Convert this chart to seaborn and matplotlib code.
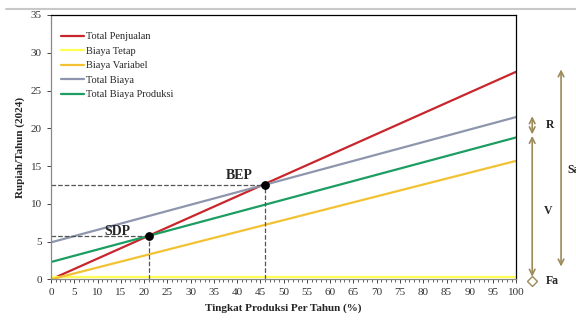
import seaborn as sns
import matplotlib.pyplot as plt
import matplotlib.lines as mlines
import pandas as pd

# production level (%) and line endpoints (rupiah / year)
produksi = [0, 100]
total_penjualan = [0, 27.5]
biaya_tetap = [0.3, 0.3]
biaya_variabel = [0, 15.7]
total_biaya = [4.9, 21.5]
total_biaya_produksi = [2.3, 18.8]

series_names = ["Total Penjualan", "Biaya Tetap", "Biaya Variabel",
                "Total Biaya", "Total Biaya Produksi"]
series_values = [total_penjualan, biaya_tetap, biaya_variabel,
                 total_biaya, total_biaya_produksi]
colors = ["#c8262c", "#ffff55", "#f2c232", "#8e96ad", "#1c9e62"]

bep = (46, 12.5)
sdp = (21, 5.75)

rows = []
for name, vals in zip(series_names, series_values):
    for x, y in zip(produksi, vals):
        rows.append({"produksi": x, "nilai": y, "seri": name})
df = pd.DataFrame(rows)

sns.set_style("ticks")
plt.rcParams["font.family"] = ["Liberation Serif", "DejaVu Serif"]

fig = plt.figure(figsize=(5.76, 3.33), dpi=100)
ax = fig.add_axes([0.0885, 0.161, 0.808, 0.794])

sns.lineplot(data=df, x="produksi", y="nilai", hue="seri",
             palette=dict(zip(series_names, colors)), linewidth=1.6, ax=ax)

# dashed guides to BEP and SDP
for px, py in [bep, sdp]:
    ax.plot([0, px], [py, py], ls="--", color="#555555", lw=0.9)
    ax.plot([px, px], [0, py], ls="--", color="#555555", lw=0.9)
    ax.scatter([px], [py], color="black", s=28, zorder=5)
ax.text(37.5, 13.3, "BEP", fontsize=10, fontweight="bold")
ax.text(11.5, 5.9, "SDP", fontsize=10, fontweight="bold")

ax.set_xlim(0, 100)
ax.set_ylim(0, 35)
ax.set_xticks(range(0, 101, 5))
ax.set_xticks(range(0, 101, 1), minor=True)
ax.set_yticks(range(0, 36, 5))
ax.tick_params(labelsize=8, length=3, width=0.6, labelcolor="#333333")
ax.tick_params(axis="x", which="minor", length=2, width=0.5)
ax.set_xlabel("Tingkat Produksi Per Tahun (%)", fontsize=8, fontweight="bold")
ax.set_ylabel("Rupiah/Tahun (2024)", fontsize=8, fontweight="bold")
for s in ax.spines.values():
    s.set_linewidth(0.9)
    s.set_color("black")
ax.spines["left"].set_color("#888888")
ax.spines["bottom"].set_color("#888888")

ax.legend(loc="upper left", bbox_to_anchor=(0.0, 0.975), frameon=False,
          fontsize=7.5, handlelength=2.2, handletextpad=0.2,
          labelspacing=0.5, borderaxespad=0.6)

# bracket arrows on the right
arrow_col = "#9c8a5a"
def bracket(x, y0, y1):
    ax.annotate("", xy=(x, y1), xytext=(x, y0), annotation_clip=False,
                arrowprops=dict(arrowstyle="<->", color=arrow_col, lw=1.2,
                                shrinkA=0, shrinkB=0))

bracket(103.4, 19.2, 21.6)
bracket(103.4, 0.35, 19.0)
bracket(109.6, 1.7, 27.8)
ax.plot([103.4], [-0.2], marker="D", ms=5, mfc="none", mec=arrow_col,
        clip_on=False)
ax.text(106.3, 20.4, "R", fontsize=8.5, fontweight="bold", va="center")
ax.text(106.0, 9.0, "V", fontsize=8.5, fontweight="bold", va="center")
ax.text(106.3, -0.2, "Fa", fontsize=8.5, fontweight="bold", va="center")
ax.text(111.0, 14.5, "Sa", fontsize=8.5, fontweight="bold", va="center",
        clip_on=False)

# faint page border line at the top
fig.add_artist(mlines.Line2D([0.01, 1.0], [0.972, 0.972], color="#c8c8c8",
                             lw=1.5, transform=fig.transFigure))

fig.savefig("out.png", dpi=100)
